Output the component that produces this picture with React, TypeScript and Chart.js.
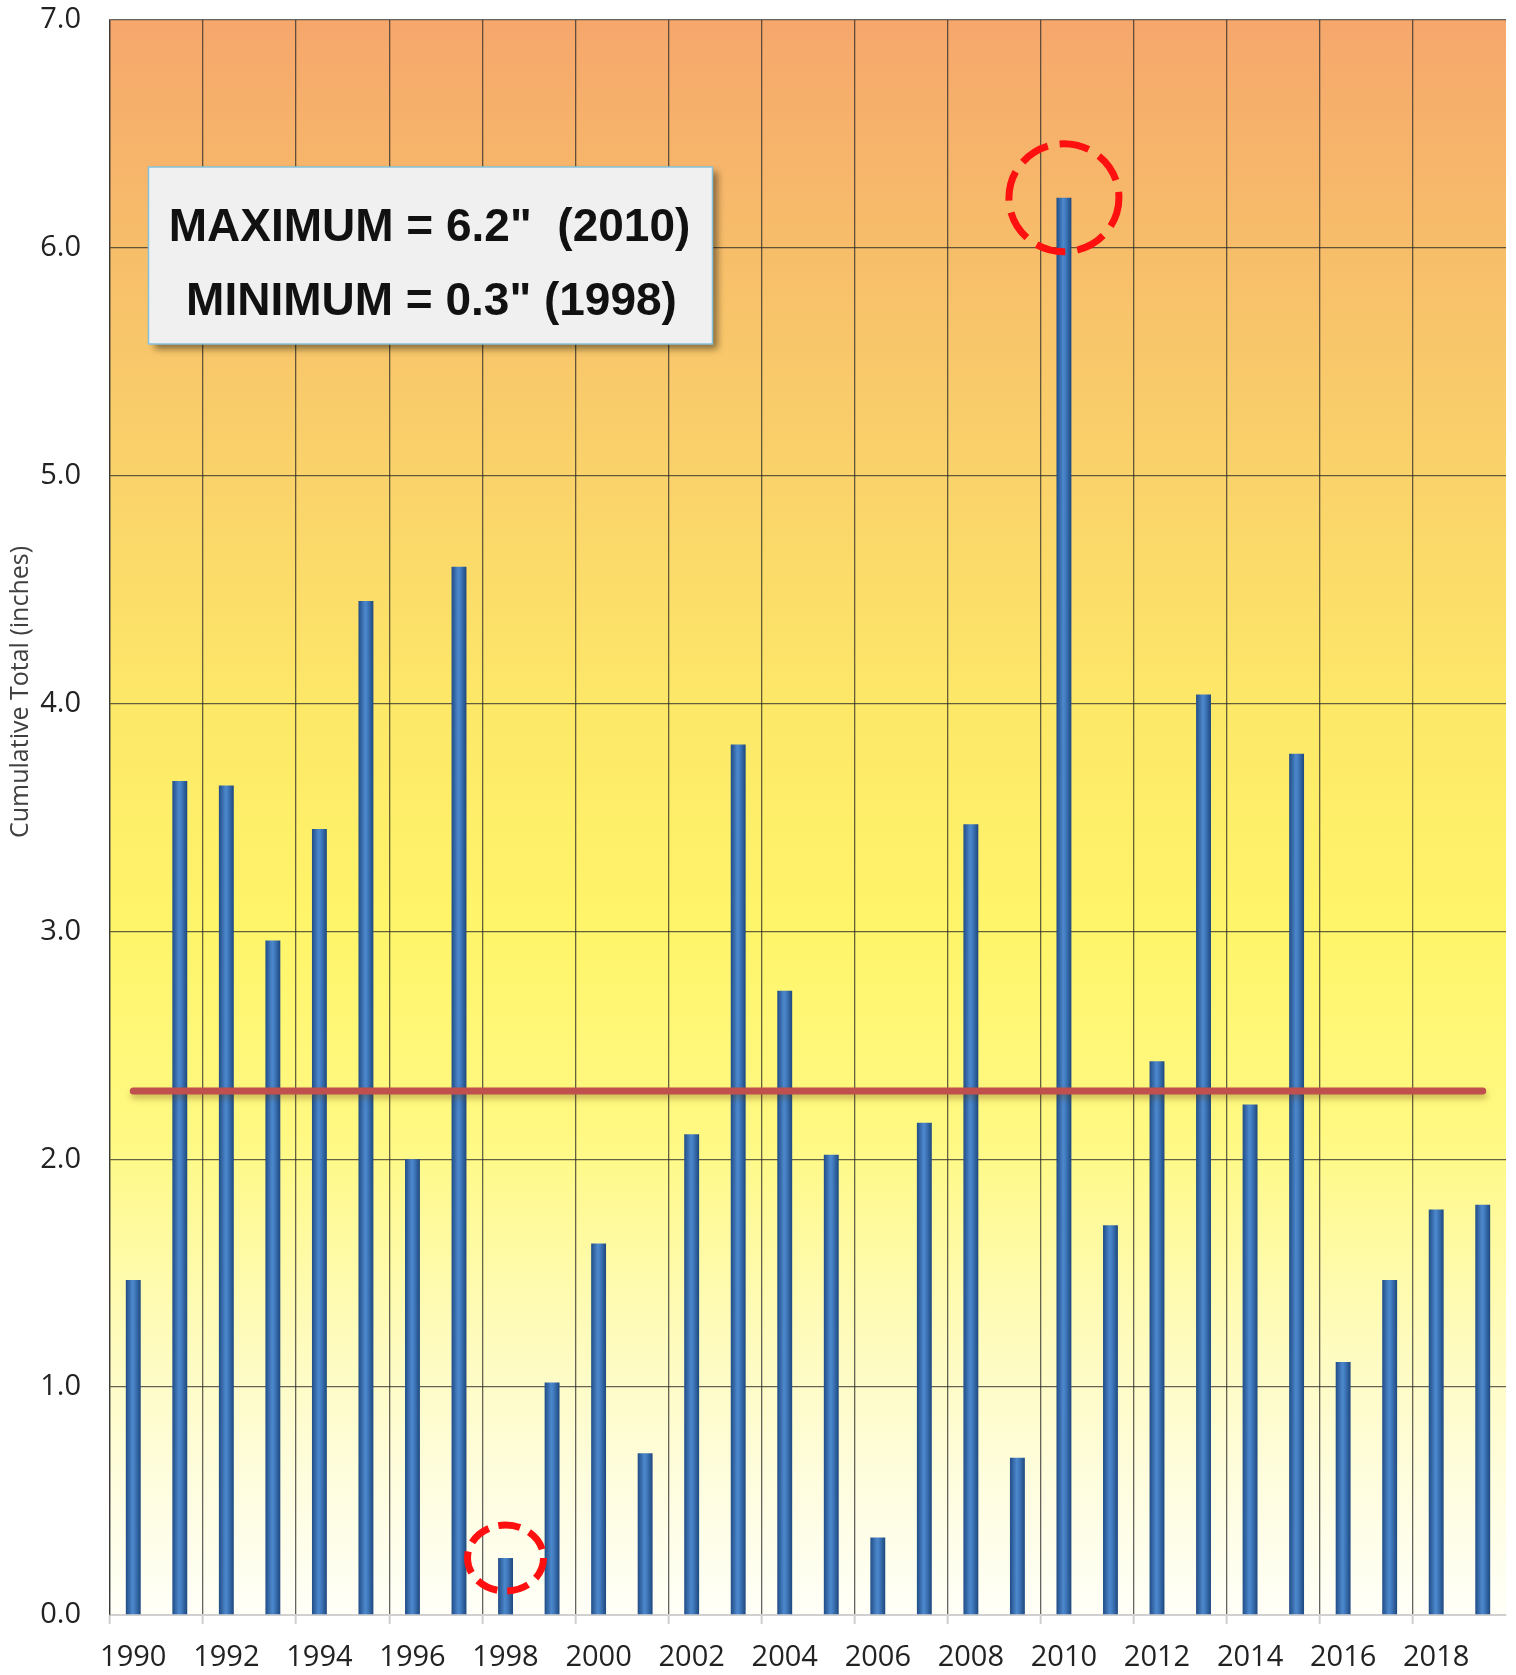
import React, { useEffect, useRef } from "react";
import { Chart, registerables } from "chart.js";

Chart.register(...registerables);

const years: string[] = [
  "1990","1991","1992","1993","1994","1995","1996","1997","1998","1999",
  "2000","2001","2002","2003","2004","2005","2006","2007","2008","2009",
  "2010","2011","2012","2013","2014","2015","2016","2017","2018","2019",
];

const totals: number[] = [
  1.47, 3.66, 3.64, 2.96, 3.45, 4.45, 2.0, 4.6, 0.25, 1.02,
  1.63, 0.71, 2.11, 3.82, 2.74, 2.02, 0.34, 2.16, 3.47, 0.69,
  6.22, 1.71, 2.43, 4.04, 2.24, 3.78, 1.11, 1.47, 1.78, 1.8,
];

const averageValue = 2.3;
const averageLine: number[] = years.map(() => averageValue);

const yTickMin = 0;
const yTickMax = 7;
const yTickStep = 1;

const yTitle = "Cumulative Total (inches)";
const boxLines: string[] = ['MAXIMUM = 6.2"  (2010)', 'MINIMUM = 0.3" (1998)'];
const circledYears: string[] = ["2010", "1998"];

const GRID = "rgba(40,40,40,0.72)";

const backgroundPlugin = {
  id: "bgGradient",
  beforeDraw(chart: any) {
    const { ctx, chartArea } = chart;
    if (!chartArea) return;
    const { left, top, right, bottom } = chartArea;
    const g = ctx.createLinearGradient(0, top, 0, bottom);
    g.addColorStop(0, "#F6A76C");
    g.addColorStop(0.14, "#F7BD6A");
    g.addColorStop(0.29, "#FAD36A");
    g.addColorStop(0.43, "#FDE868");
    g.addColorStop(0.57, "#FFF56A");
    g.addColorStop(0.7, "#FFF983");
    g.addColorStop(0.82, "#FEFBBA");
    g.addColorStop(0.92, "#FEFDDF");
    g.addColorStop(1, "#FFFFF8");
    ctx.save();
    ctx.fillStyle = g;
    ctx.fillRect(left, top, right - left, bottom - top);
    ctx.restore();
  },
};

const lineShadowPlugin = {
  id: "lineShadow",
  beforeDatasetDraw(chart: any, args: any) {
    if (args.index === 1) {
      const ctx = chart.ctx;
      ctx.save();
      ctx.shadowColor = "rgba(90,60,0,0.35)";
      ctx.shadowBlur = 6;
      ctx.shadowOffsetY = 4;
      ctx.shadowOffsetX = 1;
    }
  },
  afterDatasetDraw(chart: any, args: any) {
    if (args.index === 1) chart.ctx.restore();
  },
};

const overlayPlugin = {
  id: "overlay",
  afterDatasetsDraw(chart: any) {
    const { ctx, chartArea, scales } = chart;
    const x = scales.x;
    const y = scales.y;
    circledYears.forEach((yr, k) => {
      const i = years.indexOf(yr);
      const cx = x.getPixelForValue(i);
      const cy = y.getPixelForValue(totals[i]);
      const rx = k === 0 ? 55 : 38;
      const ry = k === 0 ? 54 : 33;
      ctx.save();
      ctx.strokeStyle = "#FF1010";
      ctx.lineWidth = 7;
      ctx.setLineDash(k === 0 ? [30, 12] : [22, 10]);
      ctx.beginPath();
      ctx.ellipse(cx, cy, rx, ry, 0, 0, Math.PI * 2);
      ctx.stroke();
      ctx.restore();
    });

    const bx = chartArea.left + 38.5;
    const by = chartArea.top + 147;
    const bw = 564;
    const bh = 177;
    ctx.save();
    ctx.shadowColor = "rgba(0,0,0,0.45)";
    ctx.shadowBlur = 7;
    ctx.shadowOffsetX = 5;
    ctx.shadowOffsetY = 5;
    ctx.fillStyle = "#F0F0F0";
    ctx.fillRect(bx, by, bw, bh);
    ctx.restore();
    ctx.save();
    ctx.strokeStyle = "#86C1DA";
    ctx.lineWidth = 1.5;
    ctx.strokeRect(bx, by, bw, bh);
    ctx.fillStyle = "#111";
    ctx.font = 'bold 46px "Liberation Sans", Arial, sans-serif';
    ctx.textAlign = "center";
    ctx.textBaseline = "alphabetic";
    ctx.fillText(boxLines[0], bx + 281, by + 74);
    ctx.fillText(boxLines[1], bx + 283, by + 148);
    ctx.restore();

    ctx.save();
    ctx.translate(21, 692);
    ctx.rotate(-Math.PI / 2);
    ctx.fillStyle = "#404040";
    ctx.font = '25px "Open Sans", sans-serif';
    ctx.textAlign = "center";
    ctx.textBaseline = "middle";
    ctx.fillText(yTitle, 0, 0);
    ctx.restore();
  },
};

export default function App() {
  const ref = useRef<HTMLCanvasElement | null>(null);

  useEffect(() => {
    document.body.style.margin = "0";
    document.body.style.overflow = "hidden";
    const canvas = ref.current;
    if (!canvas) return;

    const barFill = (c: any) => {
      const chart = c.chart;
      const xs = chart.scales && chart.scales.x;
      if (!xs || c.type !== "data" || !chart.chartArea) return "#3467A6";
      const px = xs.getPixelForValue(c.dataIndex);
      const w = 15;
      const g = chart.ctx.createLinearGradient(px - w / 2, 0, px + w / 2, 0);
      g.addColorStop(0, "#204C86");
      g.addColorStop(0.45, "#4D88CC");
      g.addColorStop(0.6, "#427CC0");
      g.addColorStop(1, "#1D477D");
      return g;
    };

    const chart = new Chart(canvas, {
      type: "bar",
      data: {
        labels: years,
        datasets: [
          {
            type: "bar",
            label: "Cumulative Total",
            data: totals,
            backgroundColor: barFill,
            borderWidth: 0,
            barPercentage: 0.32,
            categoryPercentage: 1,
            order: 2,
          },
          {
            type: "line",
            label: "Average",
            data: averageLine,
            borderColor: "#C0504D",
            borderWidth: 7,
            borderCapStyle: "round",
            pointRadius: 0,
            fill: false,
            order: 1,
          },
        ],
      } as any,
      options: {
        animation: false,
        responsive: false,
        devicePixelRatio: 1,
        layout: { padding: { top: 20, right: 10, left: 0, bottom: 0 } },
        plugins: {
          legend: { display: false },
          tooltip: { enabled: false },
          title: { display: false },
        },
        scales: {
          x: {
            offset: true,
            afterFit: (s: any) => {
              s.height = 60;
            },
            grid: {
              offset: true,
              drawOnChartArea: true,
              drawTicks: true,
              tickLength: 9,
              lineWidth: 1.3,
              tickWidth: 2,
              color: (c: any) => (c.index % 2 === 0 ? GRID : "rgba(0,0,0,0)"),
              tickColor: (c: any) => (c.index % 2 === 0 ? "#CFCFCF" : "rgba(0,0,0,0)"),
            },
            border: { display: true, color: "#D0D0D0", width: 2 },
            ticks: {
              autoSkip: false,
              maxRotation: 0,
              minRotation: 0,
              padding: 16,
              color: "#222",
              font: { family: '"Open Sans", sans-serif', size: 29 },
              callback: (_v: any, i: number) => (i % 2 === 0 ? years[i] : ""),
            },
          },
          y: {
            min: yTickMin,
            max: yTickMax,
            afterFit: (s: any) => {
              s.width = 110;
              s.paddingTop = 0;
              s.paddingBottom = 0;
            },
            grid: {
              drawTicks: false,
              lineWidth: 1.3,
              color: (c: any) => (c.tick && c.tick.value === 0 ? "rgba(0,0,0,0)" : GRID),
            },
            border: { display: true, color: GRID, width: 1.3 },
            ticks: {
              stepSize: yTickStep,
              padding: 29,
              color: "#222",
              font: { family: '"Open Sans", sans-serif', size: 29 },
              callback: (v: any) => Number(v).toFixed(1),
            },
          },
        },
      } as any,
      plugins: [backgroundPlugin, lineShadowPlugin, overlayPlugin],
    });

    return () => chart.destroy();
  }, []);

  return (
    <div style={{ width: 1516, height: 1675 }}>
      <canvas ref={ref} width={1516} height={1675} style={{ display: "block" }} />
    </div>
  );
}
